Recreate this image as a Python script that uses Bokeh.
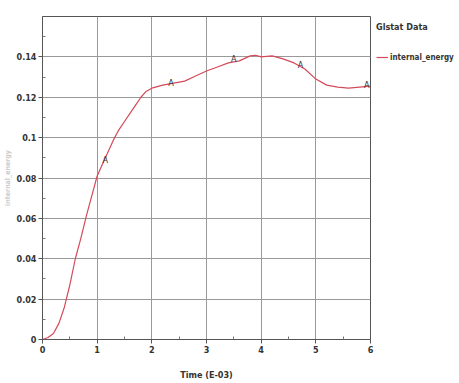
from bokeh.plotting import figure
from bokeh.models import FixedTicker, CustomJSTickFormatter, Range1d, Legend, LegendItem
from bokeh.core.properties import value
from bokeh.embed import file_html
from bokeh.resources import INLINE

time = [0, 0.1, 0.2, 0.3, 0.4, 0.5, 0.6, 0.7, 0.8, 0.9, 1.0, 1.1, 1.2, 1.3, 1.4,
        1.5, 1.6, 1.7, 1.8, 1.9, 2.0, 2.2, 2.4, 2.6, 2.8, 3.0, 3.2, 3.4, 3.6,
        3.8, 3.9, 4.0, 4.2, 4.4, 4.6, 4.8, 5.0, 5.2, 5.4, 5.6, 5.8, 6.0]
internal_energy = [0, 0.001, 0.003, 0.008, 0.016, 0.027, 0.040, 0.050, 0.061,
                   0.071, 0.081, 0.087, 0.093, 0.099, 0.104, 0.108, 0.112,
                   0.116, 0.120, 0.123, 0.1245, 0.126, 0.127, 0.128, 0.1305,
                   0.133, 0.135, 0.137, 0.138, 0.1405, 0.1408, 0.140, 0.1405,
                   0.139, 0.137, 0.134, 0.129, 0.126, 0.125, 0.1245, 0.125,
                   0.1255]
marker_x = [1.15, 2.35, 3.5, 4.72, 5.93]
marker_y = [0.089, 0.127, 0.139, 0.136, 0.126]
x_ticks = [0, 1, 2, 3, 4, 5, 6]
x_minor = [0.5, 1.5, 2.5, 3.5, 4.5, 5.5]
y_ticks = [0, 0.02, 0.04, 0.06, 0.08, 0.1, 0.12, 0.14]
y_minor = [0.01, 0.03, 0.05, 0.07, 0.09, 0.11, 0.13, 0.15]

FONT = "DejaVu Sans Condensed, Roboto, sans-serif"
RED = "#d44a5a"

p = figure(output_backend="svg", toolbar_location=None,
           x_range=Range1d(0, 6), y_range=Range1d(0, 0.16),
           frame_width=328, frame_height=323,
           min_border_left=0, min_border_top=16, min_border_right=0,
           min_border_bottom=0)
p.outline_line_color = "#555555"
p.outline_line_width = 1
p.background_fill_color = "white"

line = p.line(time, internal_energy, line_color=RED, line_width=1.2)
p.text(marker_x, marker_y, text=["A"] * len(marker_x), text_align="center",
       text_baseline="middle", text_font_size="9px", text_font=value(FONT),
       text_color="#333333")

p.xaxis.ticker = FixedTicker(ticks=x_ticks, minor_ticks=x_minor)
p.yaxis.ticker = FixedTicker(ticks=y_ticks, minor_ticks=y_minor)
p.yaxis.formatter = CustomJSTickFormatter(
    code="return tick.toFixed(2).replace(/0+$/,'').replace(/\\.$/,'');")

for ax in (p.xaxis[0], p.yaxis[0]):
    ax.axis_line_color = "#555555"
    ax.major_tick_line_color = "#555555"
    ax.minor_tick_line_color = "#777777"
    ax.major_tick_in = 0
    ax.major_tick_out = 4
    ax.minor_tick_in = 3
    ax.minor_tick_out = 0
    ax.major_label_text_font = FONT
    ax.major_label_text_font_size = "9px"
    ax.major_label_text_font_style = "bold"
    ax.major_label_text_color = "#333333"
    ax.major_label_standoff = 2
    ax.axis_label_text_font = FONT
    ax.axis_label_text_font_style = "bold"

p.xaxis.axis_label = "Time (E-03)"
p.xaxis.axis_label_text_font_size = "9px"
p.xaxis.axis_label_text_color = "#333333"
p.xaxis.axis_label_standoff = 14
p.yaxis.axis_label = "internal_energy"
p.yaxis.axis_label_text_font_size = "7px"
p.yaxis.axis_label_text_color = "#cccccc"
p.yaxis.axis_label_standoff = 2

p.xgrid.grid_line_color = "#999999"
p.ygrid.grid_line_color = "#999999"

legend = Legend(items=[LegendItem(label="internal_energy", renderers=[line])],
                title="Glstat Data", title_text_font=FONT,
                title_text_font_size="9px", title_text_font_style="bold",
                title_text_color="#333333", title_standoff=20,
                label_text_font=FONT, label_text_font_size="8px",
                label_text_font_style="bold", label_text_color="#333333",
                glyph_width=12, glyph_height=10, label_standoff=2,
                padding=0, margin=6, spacing=0, border_line_color=None,
                background_fill_alpha=0, location="top_left")
p.add_layout(legend, "right")

open("out.html", "w").write(file_html(p, INLINE))
